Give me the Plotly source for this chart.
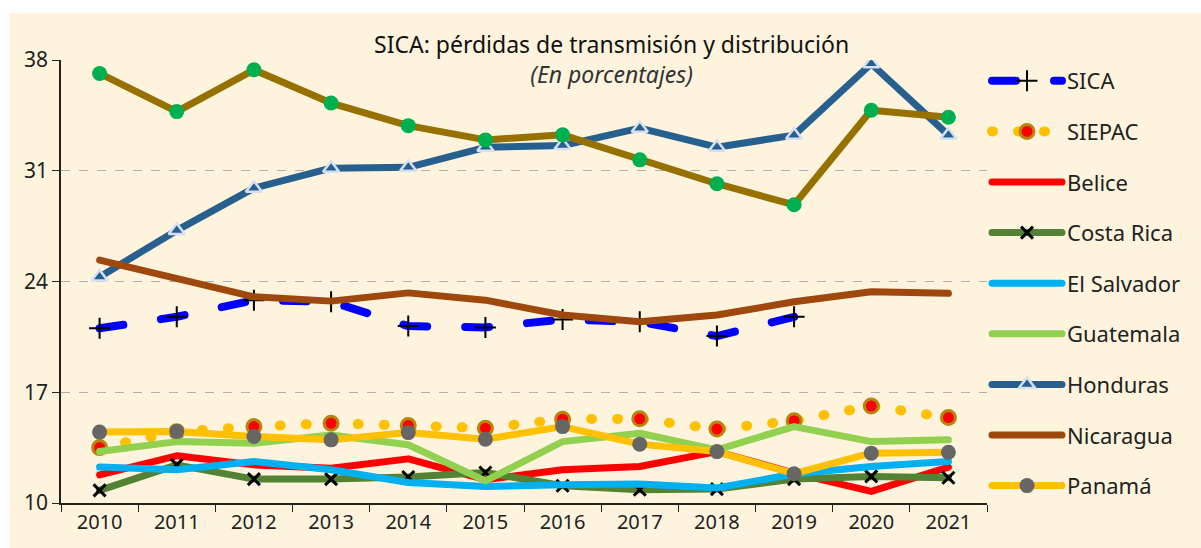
import plotly.graph_objects as go

years = ["2010", "2011", "2012", "2013", "2014", "2015", "2016", "2017", "2018", "2019", "2020", "2021"]

sica = [21.04, 21.77, 22.82, 22.72, 21.18, 21.10, 21.60, 21.45, 20.55, 21.77, None, None]
siepac = [13.50, 14.50, 14.83, 15.04, 14.90, 14.73, 15.30, 15.32, 14.67, 15.20, 16.13, 15.40]
belice = [11.78, 12.98, 12.41, 12.20, 12.79, 11.47, 12.10, 12.31, 13.25, 11.89, 10.73, 12.27]
costa_rica = [10.80, 12.41, 11.51, 11.51, 11.64, 11.93, 11.09, 10.84, 10.88, 11.51, 11.68, 11.60]
el_salvador = [12.27, 12.10, 12.62, 12.10, 11.30, 11.05, 11.15, 11.20, 10.95, 11.83, 12.31, 12.62]
guatemala = [13.25, 13.88, 13.78, 14.30, 13.68, 11.40, 13.88, 14.41, 13.36, 14.83, 13.88, 13.99]
honduras = [24.29, 27.23, 29.90, 31.16, 31.22, 32.48, 32.59, 33.69, 32.49, 33.25, 37.76, 33.25]
nicaragua = [25.35, 24.15, 23.03, 22.76, 23.28, 22.82, 21.88, 21.45, 21.88, 22.72, 23.35, 23.25]
panama = [14.48, 14.52, 14.20, 13.99, 14.45, 14.03, 14.83, 13.72, 13.25, 11.85, 13.15, 13.21]
otro = [37.15, 34.74, 37.38, 35.28, 33.85, 32.95, 33.27, 31.69, 30.18, 28.85, 34.82, 34.38]

y_ticks = [10, 17, 24, 31, 38]

FONT = "Noto Sans"
fig = go.Figure()


def add(name, y, color, width=7, dash=None, marker=None, legend=True):
    line = dict(color=color, width=width)
    if dash:
        line["dash"] = dash
    kw = dict(x=years, y=y, name=name, line=line, legendgroup=name, showlegend=legend)
    if marker:
        kw["mode"] = "lines+markers"
        kw["marker"] = marker
    else:
        kw["mode"] = "lines"
    fig.add_trace(go.Scatter(**kw))


add("SICA", sica, "#0000ff", width=8, dash="24px,38px",
    marker=dict(symbol="cross-thin", size=15, color="black", line=dict(color="black", width=2)))
add("SIEPAC", siepac, "#ffc000", width=10, dash="1px,25px",
    marker=dict(symbol="circle", size=14, color="#ff0000", line=dict(color="#b8860b", width=3)))
add("Belice", belice, "#ff0000")
add("Costa Rica", costa_rica, "#548235",
    marker=dict(symbol="x-thin", size=12, color="black", line=dict(color="black", width=3)))
add("El Salvador", el_salvador, "#00b0f0")
add("Guatemala", guatemala, "#92d050")
add("Honduras", honduras, "#27608f",
    marker=dict(symbol="triangle-up", size=14, color="#27608f", line=dict(color="#d6e0f2", width=2.5)))
add("Nicaragua", nicaragua, "#9e480e")
add("Panamá", panama, "#ffc000",
    marker=dict(symbol="circle", size=15, color="#666666"))
add("Otro", otro, "#977100", legend=False,
    marker=dict(symbol="circle", size=15, color="#00b050"))

fig.update_layout(
    width=1201, height=548,
    margin=dict(l=61, r=214, t=60, b=45),
    paper_bgcolor="white",
    plot_bgcolor="rgba(0,0,0,0)",
    font=dict(family=FONT, color="#222222", size=18),
    showlegend=True,
    legend=dict(
        x=1.0, xanchor="left", y=1.0, yanchor="top",
        bgcolor="rgba(0,0,0,0)",
        font=dict(family=FONT, size=22, color="#222222"),
        tracegroupgap=19,
        itemwidth=70,
        traceorder="grouped",
        maxheight=540,
    ),
    xaxis=dict(
        type="category", range=[-0.5, 11.5],
        tickson="boundaries", ticks="outside", ticklen=7, tickcolor="#222222",
        showline=True, linecolor="#222222", linewidth=1.5,
        showgrid=False, zeroline=False,
        tickfont=dict(family=FONT, size=20, color="#222222"),
    ),
    yaxis=dict(
        range=[10, 38], tickvals=y_ticks,
        ticks="outside", ticklen=7, tickcolor="#222222",
        showline=True, linecolor="#222222", linewidth=1.5,
        showgrid=True, gridcolor="#b0b0b0", griddash="dash", gridwidth=1,
        zeroline=False,
        tickfont=dict(family=FONT, size=21, color="#222222"),
    ),
    shapes=[dict(type="rect", xref="paper", yref="paper",
                 x0=-51 / 926, x1=1.25, y0=-0.2, y1=1 + 47 / 443,
                 fillcolor="#fef4de", line=dict(width=0), layer="below")],
    annotations=[
        dict(text="SICA: pérdidas de transmisión y distribución<br>"
                  "<span style='color:#333333'><i>(En porcentajes)</i></span>",
             xref="paper", yref="paper", align="center",
             x=0.595, y=1 + 0.5 / 443, xanchor="center", yanchor="middle", showarrow=False,
             font=dict(family=FONT, size=23, color="#111111")),
    ],
)

post = """
document.body.style.margin='0';
var s=document.createElement('style');
s.textContent='body{margin:0}.js-line{stroke-linecap:round;stroke-linejoin:round}';
document.head.appendChild(s);
"""
fig.write_html("out.html", post_script=post, config={"displayModeBar": False})
